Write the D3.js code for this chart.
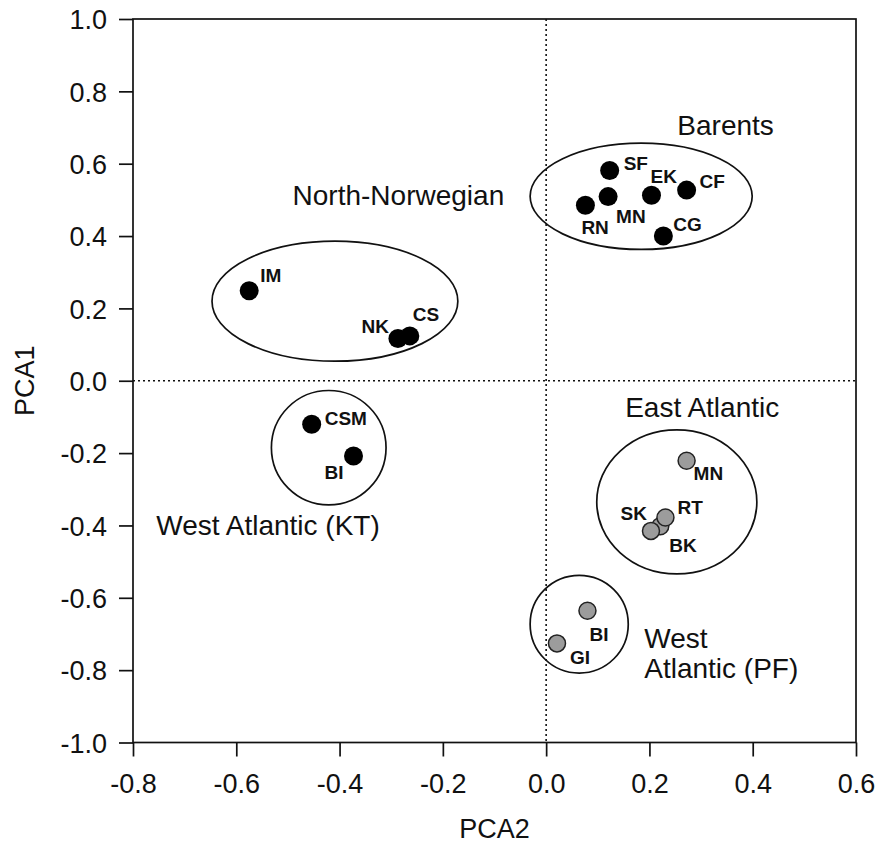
<!DOCTYPE html>
<html>
<head>
<meta charset="utf-8">
<script src="https://cdn.jsdelivr.net/npm/d3@7"></script>
<style>
  body { margin: 0; background: #fff; }
  svg text { font-family: "Liberation Sans", Arial, sans-serif; fill: #111; }
</style>
</head>
<body>
<svg id="chart" width="877" height="847"></svg>
<script>
// --- data (PCA2 on x, PCA1 on y) ---
var pointNames  = ["SF", "EK", "CF", "MN", "RN", "CG", "IM", "NK", "CS", "CSM", "BI", "MN", "BK", "RT", "SK", "BI", "GI"];
var pointGroup  = ["Barents", "Barents", "Barents", "Barents", "Barents", "Barents",
                   "North-Norwegian", "North-Norwegian", "North-Norwegian",
                   "West Atlantic (KT)", "West Atlantic (KT)",
                   "East Atlantic", "East Atlantic", "East Atlantic", "East Atlantic",
                   "West Atlantic (PF)", "West Atlantic (PF)"];
var pca2Values  = [0.123, 0.204, 0.272, 0.120, 0.076, 0.227, -0.575, -0.287, -0.264, -0.454, -0.373, 0.272, 0.221, 0.231, 0.203, 0.080, 0.021];
var pca1Values  = [0.581, 0.513, 0.527, 0.509, 0.485, 0.400, 0.249, 0.117, 0.124, -0.120, -0.208, -0.221, -0.402, -0.378, -0.415, -0.636, -0.726];

var groupNames  = ["Barents", "North-Norwegian", "West Atlantic (KT)", "East Atlantic", "West Atlantic (PF)"];
var groupCx     = [0.184, -0.409, -0.421, 0.253, 0.064];
var groupCy     = [0.510, 0.220, -0.185, -0.335, -0.673];
var groupRx     = [0.215, 0.238, 0.111, 0.155, 0.095];
var groupRy     = [0.147, 0.166, 0.158, 0.199, 0.135];

var xTicks = [-0.8, -0.6, -0.4, -0.2, 0.0, 0.2, 0.4, 0.6];
var yTicks = [-1.0, -0.8, -0.6, -0.4, -0.2, 0.0, 0.2, 0.4, 0.6, 0.8, 1.0];

// --- layout (label placement, not data) ---
// point label offsets in px from the dot: [dx, dy, anchor]
var pointLabelOffsets = [
  [14, -1, "start"], [-1, -12, "start"], [13, -2, "start"], [8, 26, "start"], [-4, 29, "start"], [10, -5, "start"],
  [11, -9, "start"], [-9, -5, "end"], [3, -15, "start"],
  [13, 1, "start"], [-10, 23, "end"],
  [7, 19, "start"], [9, 26, "start"], [12, -3, "start"], [-4, -11, "end"],
  [2, 30, "start"], [13, 21, "start"]
];
// group title anchors, in data units
var groupLabelLines = [["Barents"], ["North-Norwegian"], ["West Atlantic (KT)"], ["East Atlantic"], ["West", "Atlantic (PF)"]];
var groupLabelX = [0.254, -0.491, -0.755, 0.153, 0.190];
var groupLabelY = [0.679, 0.486, -0.427, -0.100, -0.739];

function drawChart() {
  var svg = d3.select("#chart");
  var mLeft = 133, mRight = 856, mTop = 19, mBottom = 742.5;

  var x = d3.scaleLinear().domain([-0.8, 0.6]).range([mLeft, mRight]);
  var y = d3.scaleLinear().domain([-1.0, 1.0]).range([mBottom, mTop]);
  var fmt = function(v) { return d3.format(".1f")(v).replace("\u2212", "-"); };

  // frame
  svg.append("rect")
    .attr("x", mLeft).attr("y", mTop)
    .attr("width", mRight - mLeft).attr("height", mBottom - mTop)
    .attr("fill", "none").attr("stroke", "#111").attr("stroke-width", 1.7);

  // zero reference lines (dotted)
  svg.append("line")
    .attr("x1", x(0)).attr("x2", x(0)).attr("y1", mTop).attr("y2", mBottom)
    .attr("stroke", "#111").attr("stroke-width", 1.6).attr("stroke-dasharray", "2,3");
  svg.append("line")
    .attr("x1", mLeft).attr("x2", mRight).attr("y1", y(0)).attr("y2", y(0))
    .attr("stroke", "#111").attr("stroke-width", 1.6).attr("stroke-dasharray", "2,3");

  // axes
  var xAxis = d3.axisBottom(x).tickValues(xTicks).tickFormat(fmt)
    .tickSizeInner(14).tickSizeOuter(0).tickPadding(17);
  var yAxis = d3.axisLeft(y).tickValues(yTicks).tickFormat(fmt)
    .tickSizeInner(14).tickSizeOuter(0).tickPadding(12);

  var gx = svg.append("g").attr("transform", "translate(0," + mBottom + ")").call(xAxis);
  var gy = svg.append("g").attr("transform", "translate(" + mLeft + ",0)").call(yAxis);
  [gx, gy].forEach(function(g) {
    g.select(".domain").remove();
    g.selectAll(".tick line").attr("stroke", "#111").attr("stroke-width", 1.7);
    g.selectAll(".tick text")
      .attr("font-family", "Liberation Sans, Arial, sans-serif")
      .attr("font-size", 27).attr("fill", "#111");
  });
  gy.selectAll(".tick text").attr("dy", "0.36em");

  // axis titles
  svg.append("text")
    .attr("x", (mLeft + mRight) / 2).attr("y", 838)
    .attr("text-anchor", "middle").attr("font-size", 27)
    .text("PCA2");
  svg.append("text")
    .attr("transform", "translate(34," + y(0) + ") rotate(-90)")
    .attr("text-anchor", "middle").attr("font-size", 27)
    .text("PCA1");

  // group ellipses
  var groups = groupNames.map(function(n, i) {
    return { name: n, cx: groupCx[i], cy: groupCy[i], rx: groupRx[i], ry: groupRy[i],
             lines: groupLabelLines[i], lx: groupLabelX[i], ly: groupLabelY[i] };
  });
  svg.selectAll(".grp").data(groups).enter().append("ellipse")
    .attr("class", "grp")
    .attr("cx", function(d) { return x(d.cx); })
    .attr("cy", function(d) { return y(d.cy); })
    .attr("rx", function(d) { return x(d.rx) - x(0); })
    .attr("ry", function(d) { return y(0) - y(d.ry); })
    .attr("fill", "none").attr("stroke", "#111").attr("stroke-width", 1.7);

  // group titles
  var gl = svg.selectAll(".glabel").data(groups).enter().append("text")
    .attr("class", "glabel")
    .attr("x", function(d) { return x(d.lx); })
    .attr("y", function(d) { return y(d.ly); })
    .attr("font-size", 28);
  gl.selectAll("tspan").data(function(d) { return d.lines.map(function(t) { return { t: t, x: x(d.lx) }; }); })
    .enter().append("tspan")
    .attr("x", function(d) { return d.x; })
    .attr("dy", function(d, i) { return i === 0 ? 0 : 30; })
    .text(function(d) { return d.t; });

  // points
  var points = pointNames.map(function(n, i) {
    var g = pointGroup[i];
    return { name: n, x: pca2Values[i], y: pca1Values[i],
             grey: g === "East Atlantic" || g === "West Atlantic (PF)",
             off: pointLabelOffsets[i] };
  });
  svg.selectAll(".pt").data(points).enter().append("circle")
    .attr("class", "pt")
    .attr("cx", function(d) { return x(d.x); })
    .attr("cy", function(d) { return y(d.y); })
    .attr("r", function(d) { return d.grey ? 8.5 : 9.5; })
    .attr("fill", function(d) { return d.grey ? "#9c9c9c" : "#000"; })
    .attr("stroke", function(d) { return d.grey ? "#222" : "none"; })
    .attr("stroke-width", 1.5);

  svg.selectAll(".plabel").data(points).enter().append("text")
    .attr("class", "plabel")
    .attr("x", function(d) { return x(d.x) + d.off[0]; })
    .attr("y", function(d) { return y(d.y) + d.off[1]; })
    .attr("text-anchor", function(d) { return d.off[2]; })
    .attr("font-size", 19).attr("font-weight", "bold")
    .text(function(d) { return d.name; });
}

drawChart();
</script>
</body>
</html>
